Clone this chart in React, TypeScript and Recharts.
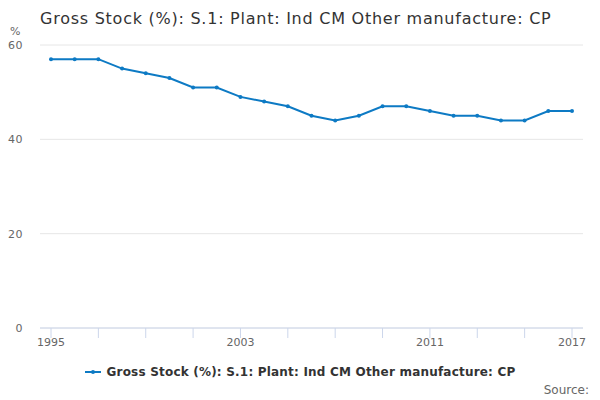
import React from "react";
import { LineChart, Line, XAxis, YAxis, CartesianGrid } from "recharts";

const years = [1995, 1996, 1997, 1998, 1999, 2000, 2001, 2002, 2003, 2004, 2005, 2006, 2007, 2008, 2009, 2010, 2011, 2012, 2013, 2014, 2015, 2016, 2017];
const values = [57, 57, 57, 55, 54, 53, 51, 51, 49, 48, 47, 45, 44, 45, 47, 47, 46, 45, 45, 44, 44, 46, 46];
const xTicks = [1995, 1997, 1999, 2001, 2003, 2005, 2007, 2009, 2011, 2013, 2015, 2017];
const xLabels = [1995, 2003, 2011, 2017];
const yTicks = [0, 20, 40, 60];
const title = "Gross Stock (%): S.1: Plant: Ind CM Other manufacture: CP";
const seriesName = "Gross Stock (%): S.1: Plant: Ind CM Other manufacture: CP";

const data = years.map((y, i) => ({ year: y, value: values[i] }));

const FONT = '"DejaVu Sans", sans-serif';
const BLUE = "#0d7ac4";

const XTick = (props: any) => {
  const { x, y, payload } = props;
  const show = xLabels.includes(payload.value);
  return (
    <g>
      <line x1={x} y1={y - 10} x2={x} y2={y} stroke="#ccd6eb" strokeWidth={1} />
      {show && (
        <text x={x} y={y + 8} textAnchor="middle" fill="#666666" fontSize={11} fontFamily={FONT}>
          {payload.value}
        </text>
      )}
    </g>
  );
};

export default function App() {
  return (
    <div style={{ position: "absolute", left: 0, top: 0, width: 600, height: 400, background: "#fff", fontFamily: FONT }}>
      <div style={{ position: "absolute", left: 40, top: 9, fontSize: 16, letterSpacing: 0.75, color: "#333333", whiteSpace: "nowrap" }}>{title}</div>
      <div style={{ position: "absolute", left: 10, top: 25, fontSize: 11, color: "#666666" }}>%</div>
      <LineChart width={600} height={400} data={data} margin={{ top: 45, right: 17, left: 0, bottom: 42 }}>
        <CartesianGrid vertical={false} stroke="#e6e6e6" />
        <XAxis
          dataKey="year"
          type="number"
          domain={[1995, 2017]}
          ticks={xTicks}
          interval={0}
          padding={{ left: 11, right: 11 }}
          stroke="#ccd6eb"
          tickLine={false}
          tickSize={10}
          tickMargin={0}
          height={30}
          tick={<XTick />}
        />
        <YAxis
          domain={[0, 60]}
          ticks={yTicks}
          width={40}
          axisLine={false}
          tickLine={false}
          tickSize={0}
          tickMargin={17}
          tick={{ fill: "#666666", fontSize: 11, fontFamily: FONT, letterSpacing: 0.5 }}
        />
        <Line
          type="linear"
          dataKey="value"
          stroke={BLUE}
          strokeWidth={2}
          dot={{ r: 2, fill: BLUE, stroke: BLUE, strokeWidth: 0 }}
          activeDot={false}
          isAnimationActive={false}
        />
      </LineChart>
      <div style={{ position: "absolute", left: 0, width: 600, top: 365, display: "flex", justifyContent: "center", alignItems: "center" }}>
        <svg width={16} height={12} style={{ marginRight: 6 }}>
          <line x1={0} y1={6} x2={16} y2={6} stroke={BLUE} strokeWidth={2} />
          <circle cx={8} cy={6} r={2} fill={BLUE} />
        </svg>
        <span style={{ fontSize: 12, fontWeight: "bold", letterSpacing: 0.2, color: "#333333" }}>{seriesName}</span>
      </div>
      <div style={{ position: "absolute", right: 11, top: 383, fontSize: 12, color: "#666666" }}>Source:</div>
    </div>
  );
}
